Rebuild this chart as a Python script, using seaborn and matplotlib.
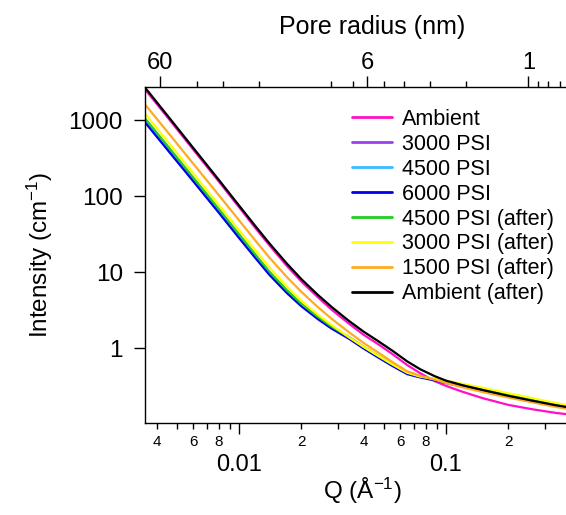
import numpy as np
import pandas as pd
import matplotlib
matplotlib.use("Agg")
import matplotlib.pyplot as plt
import seaborn as sns
from matplotlib.lines import Line2D

# --- data (Q in 1/A, intensity in 1/cm) ---
q = [0.0035, 0.0045, 0.006, 0.008, 0.01, 0.012, 0.014, 0.017, 0.02, 0.024,
     0.028, 0.034, 0.04, 0.047, 0.055, 0.065, 0.075, 0.088, 0.1, 0.12,
     0.15, 0.2, 0.26, 0.34, 0.45, 0.55]

ambient = [2550, 1093, 409, 154, 71.3, 37.8, 22.6, 12.1, 7.53, 4.69,
           3.21, 2.10, 1.50, 1.13, 0.84, 0.60, 0.47, 0.37, 0.32, 0.268,
           0.221, 0.18, 0.158, 0.141, 0.129, 0.12]
psi3000 = [996, 432, 166, 63.6, 29.8, 16.2, 9.8, 5.65, 3.77, 2.56,
           1.92, 1.4, 1.04, 0.79, 0.61, 0.47, 0.425, 0.39, 0.358, 0.322,
           0.282, 0.236, 0.204, 0.177, 0.156, 0.145]
psi4500 = [959, 416, 160, 61.2, 28.7, 15.6, 9.42, 5.44, 3.63, 2.47,
           1.85, 1.36, 1.01, 0.771, 0.598, 0.465, 0.421, 0.386, 0.356, 0.32,
           0.28, 0.235, 0.203, 0.176, 0.155, 0.144]
psi6000 = [940, 408, 157, 60, 28.1, 15.3, 9.24, 5.33, 3.56, 2.42,
           1.81, 1.33, 0.99, 0.756, 0.586, 0.456, 0.413, 0.378, 0.349, 0.314,
           0.275, 0.23, 0.199, 0.173, 0.152, 0.141]
psi4500_after = [1062, 461, 176, 67.2, 31.5, 17.0, 10.2, 5.81, 3.84, 2.59,
                 1.92, 1.40, 1.04, 0.794, 0.615, 0.479, 0.43, 0.389, 0.37, 0.333,
                 0.291, 0.244, 0.211, 0.183, 0.161, 0.149]
psi3000_after = [1229, 529, 200, 76.1, 35.6, 19.3, 11.6, 6.5, 4.21, 2.77,
                 2.02, 1.39, 1.04, 0.794, 0.614, 0.476, 0.424, 0.396, 0.375, 0.34,
                 0.303, 0.256, 0.221, 0.19, 0.166, 0.154]
psi1500_after = [1620, 702, 267, 102, 48, 25.9, 15.6, 8.65, 5.51, 3.48,
                 2.44, 1.62, 1.17, 0.88, 0.66, 0.496, 0.435, 0.387, 0.349, 0.307,
                 0.266, 0.225, 0.195, 0.169, 0.149, 0.138]
ambient_after = [2700, 1150, 431, 162, 75, 40.2, 24.0, 13.0, 8.1, 5.04,
                 3.49, 2.28, 1.65, 1.24, 0.93, 0.67, 0.53, 0.43, 0.375, 0.327,
                 0.283, 0.237, 0.205, 0.178, 0.157, 0.145]

labels = ["Ambient", "3000 PSI", "4500 PSI", "6000 PSI", "4500 PSI (after)",
          "3000 PSI (after)", "1500 PSI (after)", "Ambient (after)"]
colors = ["#ff10c8", "#9b3ff0", "#38bbff", "#0000ee", "#22cc22",
          "#ffff00", "#ffaa22", "#000000"]
series = [ambient, psi3000, psi4500, psi6000, psi4500_after,
          psi3000_after, psi1500_after, ambient_after]

bottom_major = [0.01, 0.1]
bottom_major_labels = ["0.01", "0.1"]
bottom_minor = [0.004, 0.005, 0.006, 0.007, 0.008, 0.009,
                0.02, 0.03, 0.04, 0.05, 0.06, 0.07, 0.08, 0.09,
                0.2, 0.3, 0.4, 0.5]
bottom_minor_labels = ["4", "", "6", "", "8", "",
                       "2", "", "4", "", "6", "", "8", "",
                       "2", "", "4", ""]
y_ticks = [1, 10, 100, 1000]
y_labels = ["1", "10", "100", "1000"]
top_major = [60, 6, 1]
top_major_labels = ["60", "6", "1"]
top_minor = [40, 30, 20, 9, 7, 5, 4, 3, 2, 0.9, 0.8, 0.7, 0.6]

df = pd.DataFrame({
    "Q": np.tile(q, len(labels)),
    "I": np.concatenate(series),
    "sample": np.repeat(labels, len(q)),
})

sns.set_style("ticks")
plt.rcParams["font.family"] = ["Liberation Sans", "DejaVu Sans"]
plt.rcParams["mathtext.fontset"] = "custom"
plt.rcParams["mathtext.rm"] = "Liberation Sans"
plt.rcParams["mathtext.default"] = "regular"
for key in ["text.color", "axes.labelcolor", "xtick.color", "ytick.color",
            "axes.edgecolor"]:
    plt.rcParams[key] = "black"

W, H = 566, 515
fig = plt.figure(figsize=(W / 100, H / 100), dpi=100)
ax = fig.add_axes([145 / W, 1 - 423 / H, 455 / W, 336 / H])

sns.lineplot(data=df, x="Q", y="I", hue="sample", hue_order=labels,
             palette=colors, estimator=None, sort=False, linewidth=1.6,
             legend=False, ax=ax)

ax.set_xscale("log")
ax.set_yscale("log")
ax.set_xlim(0.00351, 0.555)
ax.set_ylim(0.104, 2716)

for s in ax.spines.values():
    s.set_linewidth(1.0)
    s.set_color("black")
ax.spines["right"].set_visible(False)
ax.spines["top"].set_visible(False)

# bottom axis
ax.set_xticks(bottom_major)
ax.set_xticklabels(bottom_major_labels)
ax.set_xticks(bottom_minor, minor=True)
ax.set_xticklabels(bottom_minor_labels, minor=True)
ax.tick_params(axis="x", which="major", direction="out", length=8, width=1,
               labelsize=17, pad=14)
ax.tick_params(axis="x", which="minor", direction="out", length=4.3, width=1,
               labelsize=11, pad=4)

# left axis
ax.set_yticks(y_ticks)
ax.set_yticklabels(y_labels)
ax.yaxis.set_minor_locator(matplotlib.ticker.NullLocator())
ax.tick_params(axis="y", which="major", direction="out", length=8, width=1,
               labelsize=17.5, pad=8)

ax.set_xlabel(r"Q (Å$^{-1}$)", fontsize=17.5)
ax.xaxis.set_label_coords((362 - 145) / 455, -(476 - 423) / 336)
ax.set_ylabel(r"Intensity (cm$^{-1}$)", fontsize=17.5)
ax.yaxis.set_label_coords(-(145 - 55) / 455, 0.5)

# top axis: pore radius (nm) = 0.25 / Q
sec = ax.secondary_xaxis("top", functions=(lambda x: 0.25 / x, lambda x: 0.25 / x))
sec.spines["top"].set_linewidth(1.0)
sec.set_xticks(top_major)
sec.set_xticklabels(top_major_labels)
sec.set_xticks(top_minor, minor=True)
sec.xaxis.set_minor_formatter(matplotlib.ticker.NullFormatter())
sec.tick_params(axis="x", which="major", direction="out", length=8, width=1,
                labelsize=17, pad=1.5)
sec.tick_params(axis="x", which="minor", direction="out", length=4.3, width=1)
sec.set_xlabel("Pore radius (nm)", fontsize=18, labelpad=13)

handles = [Line2D([], [], color=c, linewidth=2) for c in colors]
ax.legend(handles, labels, loc="upper left",
          bbox_to_anchor=(352 / W, 1 - 109 / H), bbox_transform=fig.transFigure,
          frameon=False, fontsize=15.5, handlelength=1.86, handletextpad=0.47,
          labelspacing=0.18, borderpad=0, borderaxespad=0)

fig.savefig("out.png", dpi=100)
